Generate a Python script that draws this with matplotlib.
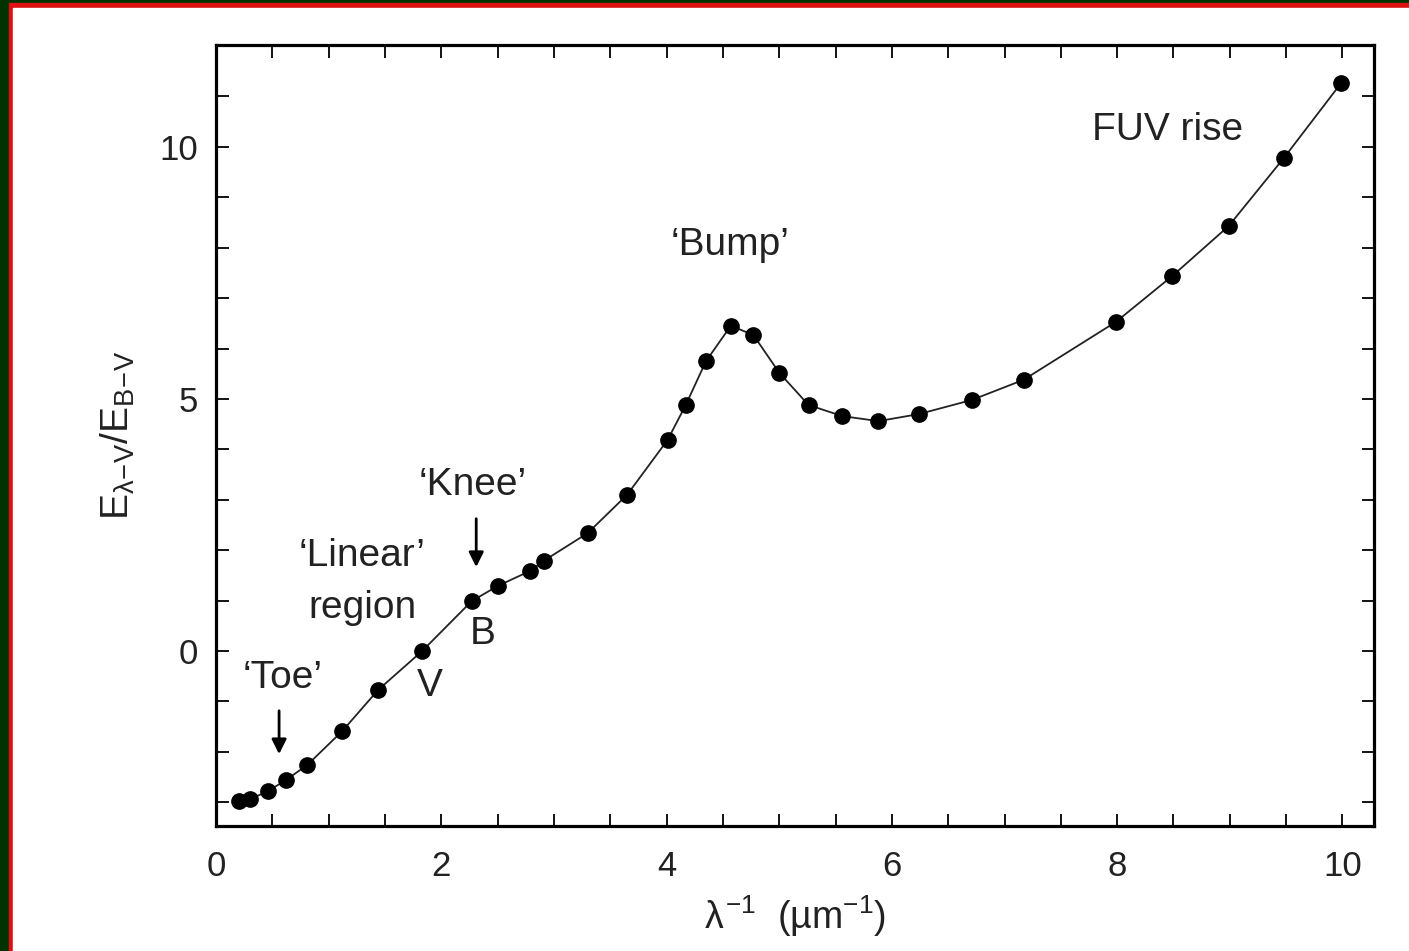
import matplotlib.pyplot as plt
from matplotlib.patches import Rectangle

# extinction curve values
inv_wavelength = [0.20, 0.30, 0.46, 0.62, 0.81, 1.12, 1.44, 1.83, 2.27, 2.50,
                  2.79, 2.91, 3.30, 3.65, 4.01, 4.17, 4.35, 4.57, 4.77, 5.00,
                  5.26, 5.56, 5.88, 6.24, 6.71, 7.17, 7.99, 8.49, 8.99, 9.48, 9.99]
extinction = [-2.98, -2.94, -2.78, -2.56, -2.26, -1.59, -0.77, 0.00, 0.99, 1.29,
              1.59, 1.79, 2.34, 3.10, 4.19, 4.88, 5.75, 6.45, 6.27, 5.52,
              4.88, 4.66, 4.56, 4.70, 4.98, 5.38, 6.53, 7.44, 8.43, 9.78, 11.27]

x_ticks = [0, 2, 4, 6, 8, 10]
y_ticks = [0, 5, 10]

plt.rcParams['font.family'] = ['Liberation Sans', 'DejaVu Sans']
plt.rcParams['mathtext.fontset'] = 'custom'
plt.rcParams['mathtext.rm'] = 'Liberation Sans'
plt.rcParams['mathtext.it'] = 'Liberation Sans'

fig = plt.figure(figsize=(14.09, 9.51), dpi=100)
fig.patch.set_facecolor('white')

# slide frame: dark green background, red rule, white panel
W, H = 1409, 951
def frame_rect(x0, y0, x1, y1, color):
    fig.patches.append(Rectangle((x0 / W, 1 - y1 / H), (x1 - x0) / W, (y1 - y0) / H,
                                 transform=fig.transFigure, color=color, zorder=-10))
frame_rect(0, 0, W, H, '#003300')
frame_rect(9, 3, W, H, '#dd1111')
frame_rect(13, 8, W, H, 'white')

ax = fig.add_axes([216 / W, 1 - 826 / H, (1374 - 216) / W, (826 - 45) / H])
ax.plot(inv_wavelength, extinction, color='#222222', lw=1.3, zorder=2)
ax.plot(inv_wavelength, extinction, 'o', color='black', ms=11, zorder=3)

ax.set_xlim(0, 10.28)
ax.set_ylim(-3.47, 12.02)
ax.set_xticks(x_ticks)
ax.set_xticks([i * 0.5 for i in range(21)], minor=True)
ax.set_yticks(y_ticks)
ax.set_yticks(range(-3, 13), minor=True)
for which in ['major', 'minor']:
    ax.tick_params(which=which, direction='in', top=True, right=True,
                   length=9, width=1.3, colors='black')
ax.tick_params(labelsize=25, labelcolor='#222222')
ax.tick_params(axis='x', pad=17)
ax.tick_params(axis='y', pad=13)
for s in ax.spines.values():
    s.set_linewidth(2.3)

ax.set_xlabel(r'$\lambda^{-1}$  (µm$^{-1}$)', fontsize=27, color='#222222', labelpad=8)
ax.set_ylabel(r'E$_{\lambda\!-\!V}$/E$_{B\!-\!V}$', fontsize=28, color='#222222', labelpad=16)

txt = dict(fontsize=28, color='#222222', ha='center', va='center')
ax.text(0.59, -0.54, '‘Toe’', **txt)
ax.text(1.30, 1.88, '‘Linear’', **txt)
ax.text(1.30, 0.85, 'region', **txt)
ax.text(2.28, 3.29, '‘Knee’', **txt)
ax.text(1.90, -0.69, 'V', **txt)
ax.text(2.37, 0.34, 'B', **txt)
ax.text(4.56, 8.06, '‘Bump’', **txt)
ax.text(8.45, 10.34, 'FUV rise', **txt)

arrow = dict(arrowstyle='-|>', color='black', lw=2, mutation_scale=22)
ax.annotate('', xy=(0.56, -2.10), xytext=(0.56, -1.13), arrowprops=arrow)
ax.annotate('', xy=(2.31, 1.61), xytext=(2.31, 2.68), arrowprops=arrow)

fig.savefig('out.png', dpi=100, facecolor=fig.get_facecolor())
